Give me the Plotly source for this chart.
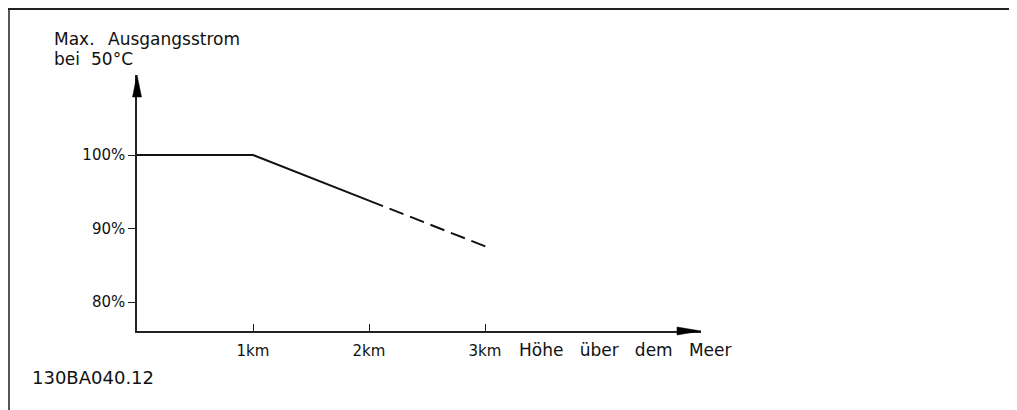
import plotly.graph_objects as go

# ---- data ----
alt_solid = [0, 1, 2]            # km
cur_solid = [100, 100, 93.8]     # %
alt_dash = [2, 3.03]
cur_dash = [93.8, 87.4]

x_tick_vals = [1, 2, 3]
x_tick_text = ["1km", "2km", "3km"]
y_tick_vals = [80, 90, 100]
y_tick_text = ["80%", "90%", "100%"]

NB = "\u00a0"
# y-axis caption words: (text, left x, centre y) in screen px
y_title_words = [("Max.", 52, 39), ("Ausgangsstrom", 106, 39), ("bei", 52, 59), ("50°C", 89, 59)]
x_title = f"Höhe{NB*3}über{NB*3}dem{NB*3}Meer"
doc_id = "130BA040.12"

# ---- layout geometry (screen px; page body adds an 8px offset) ----
OFF = 8
W, H = 1017 - OFF, 410 - OFF
AX_X, AX_Y = 137, 331          # screen position of axes origin
Y_TIP, X_TIP = 75, 701         # arrow tips
L = AX_X - OFF
T = Y_TIP - OFF
B = H - (AX_Y - OFF)
R = W - (X_TIP - OFF)
PW, PH = W - L - R, H - T - B
KM_PX = 116.0
PCT_PX = 7.35
Y100 = 155
X_RANGE = [0, PW / KM_PX]
Y_RANGE = [100 - (AX_Y - Y100) / PCT_PX, 100 + (Y100 - Y_TIP) / PCT_PX]

def px(x):
    return (x - OFF - L) / PW

def py(y):
    return (H - B - (y - OFF)) / PH

FONT = "DejaVu Sans"
INK = "#111111"

fig = go.Figure()
fig.add_trace(go.Scatter(x=alt_solid, y=cur_solid, mode="lines",
                         line=dict(color=INK, width=2), cliponaxis=False,
                         hoverinfo="skip", showlegend=False))
fig.add_trace(go.Scatter(x=alt_dash, y=cur_dash, mode="lines",
                         line=dict(color=INK, width=2, dash="15px,7px"),
                         cliponaxis=False, hoverinfo="skip", showlegend=False))

shapes = []
# frame lines
shapes.append(dict(type="line", xref="paper", yref="paper",
                   x0=px(9), x1=px(9), y0=py(8), y1=py(415),
                   line=dict(color="#555555", width=2)))
shapes.append(dict(type="line", xref="paper", yref="paper",
                   x0=px(8), x1=px(1020), y0=py(9), y1=py(9),
                   line=dict(color="#222222", width=2)))
# arrowheads (y axis top, x axis right)
ytip, ybase = py(Y_TIP), py(97)
shapes.append(dict(type="path", xref="paper", yref="paper",
                   path=f"M {px(AX_X)} {ytip} L {px(AX_X-4.5)} {ybase} L {px(AX_X+4.5)} {ybase} Z",
                   fillcolor="#000000", line=dict(color="#000000", width=0.5)))
xtip, xbase = px(X_TIP), px(677)
shapes.append(dict(type="path", xref="paper", yref="paper",
                   path=f"M {xtip} {py(AX_Y)} L {xbase} {py(AX_Y-4)} L {xbase} {py(AX_Y+4)} Z",
                   fillcolor="#000000", line=dict(color="#000000", width=0.5)))

annotations = []
for word, wx, wy in y_title_words:
    annotations.append(dict(text=word, xref="paper", yref="paper", x=px(wx), y=py(wy),
                            xanchor="left", yanchor="middle", showarrow=False,
                            font=dict(family=FONT, size=17, color=INK)))
annotations += [
    dict(text=x_title, xref="paper", yref="paper", x=px(517), y=py(350),
         xanchor="left", yanchor="middle", showarrow=False,
         font=dict(family=FONT, size=17, color=INK)),
    dict(text=doc_id, xref="paper", yref="paper", x=px(30), y=py(377),
         xanchor="left", yanchor="middle", showarrow=False,
         font=dict(family=FONT, size=18, color=INK)),
]

fig.update_layout(
    width=W, height=H,
    margin=dict(l=L, r=R, t=T, b=B, pad=0),
    paper_bgcolor="white", plot_bgcolor="white",
    shapes=shapes, annotations=annotations,
    xaxis=dict(range=X_RANGE, showgrid=False, zeroline=False,
               showline=True, linecolor="#222222", linewidth=1.5,
               ticks="inside", ticklen=7, tickwidth=1.2, tickcolor="#222222",
               tickvals=x_tick_vals, ticktext=x_tick_text,
               ticklabelstandoff=5,
               tickfont=dict(family=FONT, size=15, color=INK), fixedrange=True),
    yaxis=dict(range=Y_RANGE, showgrid=False, zeroline=False,
               showline=True, linecolor="#222222", linewidth=1.5,
               ticks="outside", ticklen=7, tickwidth=1.2, tickcolor="#222222",
               tickvals=y_tick_vals, ticktext=y_tick_text,
               ticklabelstandoff=0,
               tickfont=dict(family=FONT, size=15, color=INK), fixedrange=True),
)

fig.write_html("out.html")
